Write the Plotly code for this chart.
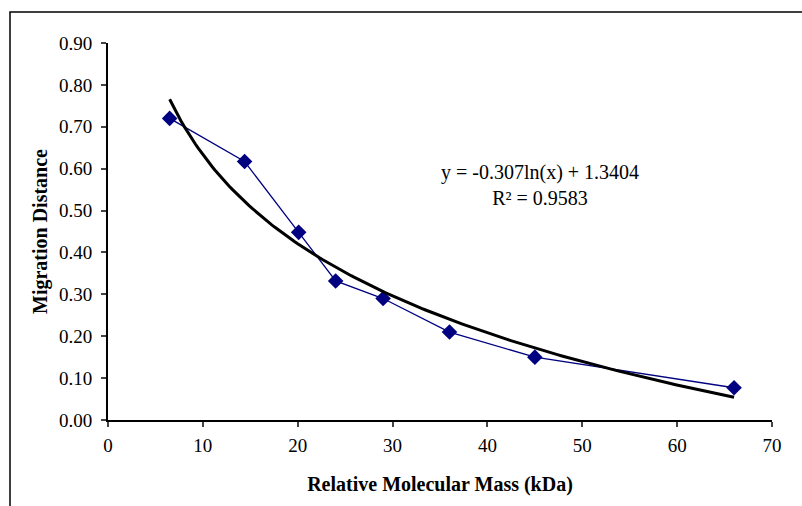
import numpy as np
import plotly.graph_objects as go

# Marker proteins: relative molecular mass (kDa) vs migration distance
mass_kda = [6.5, 14.4, 20.1, 24, 29, 36, 45, 66]
migration = [0.72, 0.617, 0.448, 0.332, 0.29, 0.21, 0.15, 0.077]

# Logarithmic trendline as printed on the chart
fit_slope = -0.307
fit_intercept = 1.3404
fit_r2 = 0.9583

x_ticks = [0, 10, 20, 30, 40, 50, 60, 70]
y_ticks = [0.0, 0.1, 0.2, 0.3, 0.4, 0.5, 0.6, 0.7, 0.8, 0.9]

W, H = 802, 506
ml, mr, mt, mb = 108, 30, 43, 86
pw, ph = W - ml - mr, H - mt - mb

fit_x = np.linspace(min(mass_kda), max(mass_kda), 200)
fit_y = fit_slope * np.log(fit_x) + fit_intercept

serif = "Liberation Serif, Times New Roman, serif"

fig = go.Figure()

fig.add_trace(go.Scatter(
    x=mass_kda
    ,y=migration
    ,mode="lines+markers"
    ,line=dict(color="#000080", width=1.3)
    ,marker=dict(symbol="diamond", size=12, color="#000080")
    ,showlegend=False
))

fig.add_trace(go.Scatter(
    x=fit_x
    ,y=fit_y
    ,mode="lines"
    ,line=dict(color="black", width=3)
    ,showlegend=False
))

fig.add_annotation(
    x=(540 - ml) / pw, y=(H - mb - 185) / ph, xref="paper", yref="paper", showarrow=False
    ,text=f"y = {fit_slope}ln(x) + {fit_intercept}<br>R² = {fit_r2}"
    ,font=dict(family=serif, size=20, color="black")
    ,align="center"
)

# outer chart border (right/bottom edges run off the picture)
fig.add_shape(
    type="rect", xref="paper", yref="paper"
    ,x0=(10 - ml) / pw, x1=(W + 20 - ml) / pw
    ,y0=-(H + 20 - mt - ph) / ph, y1=(H - mb - 12) / ph
    ,line=dict(color="black", width=1.5), layer="below"
)

fig.update_xaxes(
    range=[0, 70], tickvals=x_ticks, ticks="outside", ticklen=5, tickwidth=1.5
    ,showline=True, linecolor="black", linewidth=2, showgrid=False, zeroline=False
    ,automargin=False, ticklabelstandoff=2
    ,tickfont=dict(family=serif, size=19, color="black")
    ,title=dict(text="<b>Relative Molecular Mass (kDa)</b>", standoff=22
                ,font=dict(family=serif, size=20, color="black"))
)

fig.update_yaxes(
    range=[0, 0.9], tickvals=y_ticks, tickformat=".2f", ticks="outside", ticklen=5, tickwidth=1.5
    ,showline=True, linecolor="black", linewidth=2, showgrid=False, zeroline=False
    ,automargin=False, ticklabelstandoff=5
    ,tickfont=dict(family=serif, size=19, color="black")
    ,title=dict(text="<b>Migration Distance</b>", standoff=6
                ,font=dict(family=serif, size=20, color="black"))
)

fig.update_layout(
    width=W
    ,height=H
    ,margin=dict(l=ml, r=mr, t=mt, b=mb)
    ,plot_bgcolor="white"
    ,paper_bgcolor="white"
)

# drop the browser's default body margin so the figure sits at the page corner
fig.write_html("out.html", config={"displayModeBar": False}
               ,post_script="document.body.style.margin='0';")
